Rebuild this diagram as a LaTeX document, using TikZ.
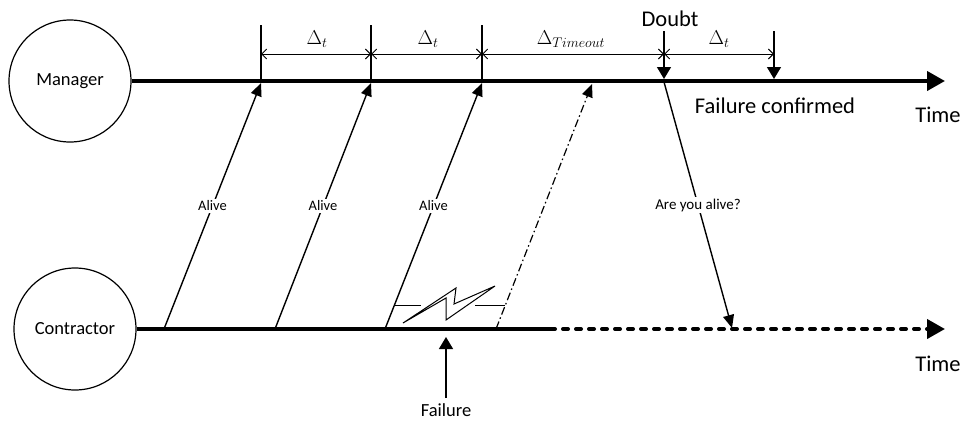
\RequirePackage{fix-cm}
\documentclass[tikz,border=0pt]{standalone}
\usepackage{fontspec}
\setmainfont{Carlito}
\usetikzlibrary{arrows.meta}
\tikzset{
  actor/.style={circle,draw,line width=1.2pt,minimum size=122pt,inner sep=0pt,font=\fontsize{18.5}{20}\selectfont},
  timeline/.style={line width=4pt},
  bigtip/.style={-{Triangle[length=18pt,width=19pt]}},
  msg/.style={line width=1.4pt,-{Triangle[length=13pt,width=11pt]}},
  msglabel/.style={fill=white,inner sep=1.5pt,font=\fontsize{14.5}{16}\selectfont},
  tick/.style={line width=1.4pt},
  downtick/.style={line width=1.4pt,-{Triangle[length=12pt,width=14pt]}},
  dim/.style={line width=0.9pt,{Straight Barb[length=5pt,width=10pt]}-{Straight Barb[length=5pt,width=10pt]}},
  dimlabel/.style={anchor=base,inner sep=0pt,font=\fontsize{20}{22}\selectfont},
  bigtext/.style={anchor=base,inner sep=0pt,font=\fontsize{22.5}{25}\selectfont},
}
\begin{document}
\begin{tikzpicture}[x=1pt,y=-1pt]
\useasboundingbox (0,0) rectangle (965,421);
% actors
\node[actor] (mgr) at (70,81) {Manager};
\node[actor] (con) at (75,329) {Contractor};
% time lines
\coordinate (mEnd) at (945,81);
\draw[timeline,bigtip] (mgr.east) -- (mEnd);
\coordinate (cSolid) at (550,329);
\coordinate (cEnd) at (945,329);
\draw[timeline] (con.east) -- (cSolid);
\draw[timeline,bigtip,line cap=round,dash pattern=on 5pt off 8pt] (cSolid) -- (cEnd);
% ticks on manager line
\coordinate (t1) at (261,81); \coordinate (t1u) at (261,25);
\coordinate (t2) at (371,81); \coordinate (t2u) at (371,25);
\coordinate (t3) at (482,81); \coordinate (t3u) at (482,25);
\coordinate (t4) at (664,79); \coordinate (t4u) at (664,31);
\coordinate (t5) at (774,79); \coordinate (t5u) at (774,31);
\draw[tick] (t1u) -- (t1);
\draw[tick] (t2u) -- (t2);
\draw[tick] (t3u) -- (t3);
\draw[downtick] (t4u) -- (t4);
\draw[downtick] (t5u) -- (t5);
% dimension lines
\coordinate (d1) at (261,54); \coordinate (d2) at (371,54);
\coordinate (d3) at (482,54); \coordinate (d4) at (664,54);
\coordinate (d5) at (774,54);
\draw[dim] (d1) -- (d2);
\draw[dim] (d2) -- (d3);
\draw[dim] (d3) -- (d4);
\draw[dim] (d4) -- (d5);
\node[dimlabel] (l1) at (317,44) {$\Delta_t$};
\node[dimlabel] (l2) at (428,44) {$\Delta_t$};
\node[dimlabel] (l3) at (571,44) {$\Delta_{Timeout}$};
\node[dimlabel] (l4) at (719,44) {$\Delta_t$};
\node[bigtext] (doubt) at (670,26) {Doubt};
\node[bigtext] (conf) at (775,113) {Failure confirmed};
\node[bigtext] (time1) at (938,122) {Time};
\node[bigtext] (time2) at (938,371) {Time};
% alive messages
\coordinate (a1s) at (164,329); \coordinate (a1e) at (261,83);
\coordinate (a2s) at (275,329); \coordinate (a2e) at (371,83);
\coordinate (a3s) at (385,329); \coordinate (a3e) at (482,83);
\coordinate (a4s) at (496,329); \coordinate (a4e) at (592,84);
\draw[msg] (a1s) -- node[msglabel] (al1) {Alive} (a1e);
\draw[msg] (a2s) -- node[msglabel] (al2) {Alive} (a2e);
\draw[msg] (a3s) -- node[msglabel] (al3) {Alive} (a3e);
\draw[msg,line width=1.2pt,dash pattern=on 8pt off 3pt on 1.5pt off 3pt] (a4s) -- (a4e);
% are you alive
\coordinate (q1) at (664,82); \coordinate (q2) at (732,328);
\draw[msg] (q1) -- node[msglabel,font=\fontsize{15}{17}\selectfont] (ql) {Are you alive?} (q2);
% lightning
\coordinate (h1) at (394,305); \coordinate (h2) at (421,305);
\coordinate (h3) at (475,305); \coordinate (h4) at (505,305);
\draw[line width=1pt] (h1) -- (h2);
\draw[line width=1pt] (h3) -- (h4);
\draw[line width=1pt,line join=miter] (403,323) -- (456,288) -- (454,304) -- (495,286) -- (446,320) -- (446,298) -- cycle;
% failure
\coordinate (f1) at (446,398); \coordinate (f2) at (446,337);
\draw[line width=1.4pt,-{Triangle[length=12pt,width=14pt]}] (f1) -- (f2);
\node[font=\fontsize{18.5}{20}\selectfont,inner sep=0pt] (fail) at (446,410) {Failure};
\end{tikzpicture}
\end{document}
